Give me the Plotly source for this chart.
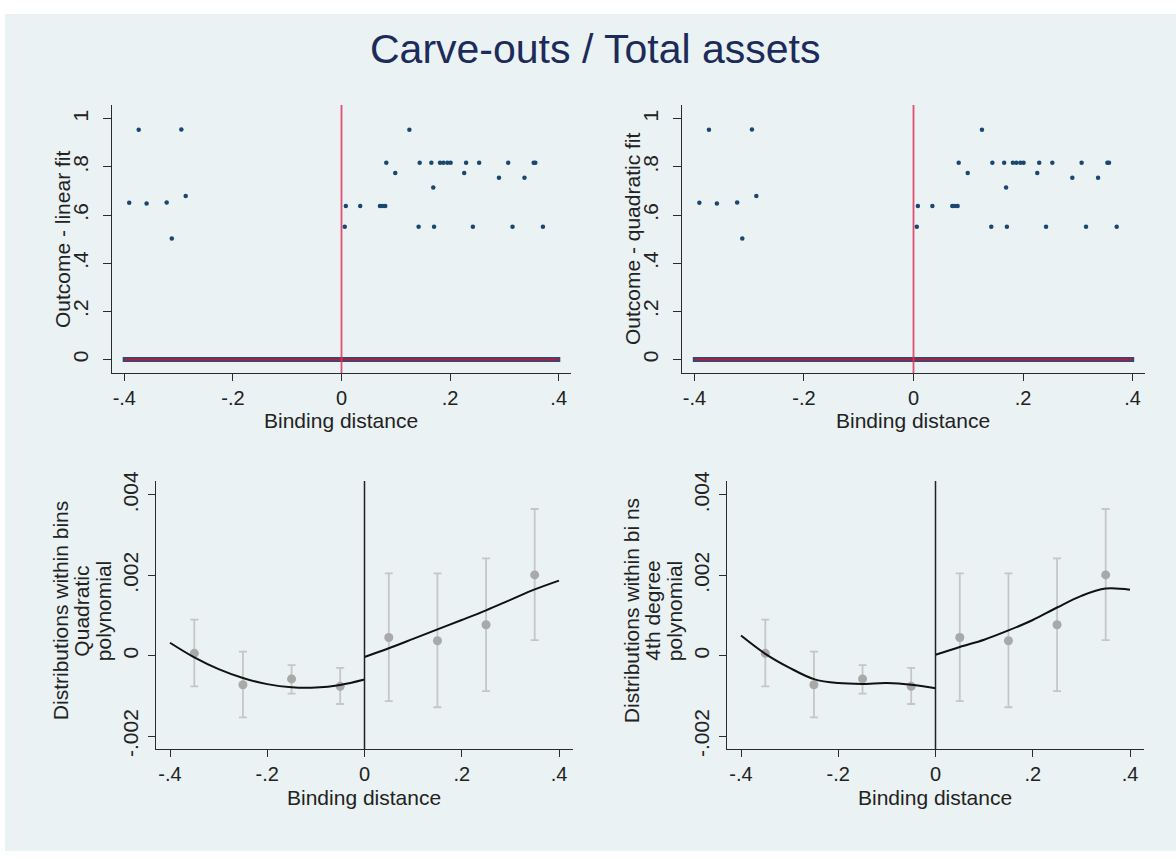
import plotly.graph_objects as go

# ---------------- data ----------------
# top panels: scatter of outcome vs binding distance
scat_x = [-0.391, -0.3735, -0.359, -0.322, -0.3126, -0.295, -0.287,
          0.006, 0.008, 0.0345, 0.0708, 0.0757, 0.0806, 0.0825, 0.099, 0.125,
          0.142, 0.144, 0.1655, 0.169, 0.1705, 0.1815, 0.1877, 0.195, 0.201,
          0.226, 0.2295, 0.242, 0.2535, 0.290, 0.307, 0.315, 0.337, 0.354,
          0.357, 0.371]
scat_y = [0.651, 0.954, 0.648, 0.652, 0.503, 0.955, 0.679,
          0.551, 0.637, 0.637, 0.637, 0.637, 0.637, 0.817, 0.774, 0.954,
          0.551, 0.817, 0.817, 0.714, 0.551, 0.817, 0.817, 0.817, 0.817,
          0.774, 0.817, 0.551, 0.817, 0.755, 0.817, 0.551, 0.755, 0.817,
          0.817, 0.551]
zero_x = [-0.403, 0.403]
zero_y = [0.0, 0.0]
fit_left_x = [-0.4, 0.0]
fit_left_y = [0.0, 0.0]
fit_right_x = [0.0, 0.4]
fit_right_y = [0.0, 0.0]

# bottom panels: binned means with confidence intervals
bin_x = [-0.35, -0.25, -0.15, -0.05, 0.05, 0.15, 0.25, 0.35]
bin_y = [0.00006, -0.00072, -0.000575, -0.00076, 0.000454, 0.000373, 0.00077, 0.00201]
bin_hi = [0.0009, 0.000105, -0.000235, -0.0003, 0.00205, 0.00205, 0.00242, 0.00365]
bin_lo = [-0.00076, -0.00153, -0.00094, -0.0012, -0.00113, -0.00128, -0.00088, 0.00039]

curve_left_x = [-0.4, -0.35, -0.3, -0.25, -0.2, -0.15, -0.1, -0.05, 0.0]
curve_right_x = [0.0, 0.05, 0.1, 0.15, 0.2, 0.25, 0.3, 0.35, 0.4]
quad_left_y = [0.000324, -0.000041, -0.000333, -0.000554, -0.000705, -0.000783, -0.00079, -0.000725, -0.00059]
quad_right_y = [-0.00003, 0.000186, 0.00042, 0.000656, 0.00089, 0.00113, 0.00139, 0.00165, 0.00187]
quart_left_y = [0.000503, 0.000049, -0.0003, -0.00058, -0.00068, -0.0007, -0.00068, -0.00072, -0.00081]
quart_right_y = [0.000024, 0.00022, 0.0004, 0.00063, 0.00089, 0.0012, 0.00149, 0.00167, 0.00164]

x_ticks = [-0.4, -0.2, 0, 0.2, 0.4]
x_ticklabels = ["-.4", "-.2", "0", ".2", ".4"]
top_y_ticks = [0, 0.2, 0.4, 0.6, 0.8, 1]
top_y_ticklabels = ["0", ".2", ".4", ".6", ".8", "1"]
bot_y_ticks = [-0.002, 0, 0.002, 0.004]
bot_y_ticklabels = ["-.002", "0", ".002", ".004"]

title_text = "Carve-outs / Total assets"
x_title = "Binding distance"
top_y_titles = ["Outcome - linear fit", "Outcome - quadratic fit"]
bot_y_titles = [["Distributions within bins", "Quadratic", "polynomial"],
                ["Distributions within bi ns", "4th degree", "polynomial"]]

# ---------------- styling ----------------
W, H = 1176, 859
BG = "#eaf2f3"
FONT = "Liberation Sans, Arial, sans-serif"
NAVY = "#1a476f"
AX = "#2b2b2b"


def px(x):
    return x / W


def py(y):
    return 1 - y / H


fig = go.Figure()

panels = {
    "tl": ("x", "y", (112, 571), (97, 371)),
    "tr": ("x2", "y2", (682, 1145), (97, 371)),
    "bl": ("x3", "y3", (156, 573), (481, 755)),
    "br": ("x4", "y4", (727, 1144), (481, 755)),
}

layout = dict(
    width=W, height=H,
    margin=dict(l=0, r=0, t=0, b=0),
    paper_bgcolor="white",
    plot_bgcolor="white",
    showlegend=False,
    font=dict(family=FONT, color="#222222"),
)

for name, (xa, ya, (x0, x1), (y0, y1)) in panels.items():
    xkey = "xaxis" + xa[1:]
    ykey = "yaxis" + ya[1:]
    top = name in ("tl", "tr")
    layout[xkey] = dict(
        domain=[px(x0), px(x1)], anchor=ya,
        range=[-0.4227, 0.4227] if top else [-0.4288, 0.4288],
        tickvals=x_ticks, ticktext=x_ticklabels,
        ticks="outside", ticklen=7, tickcolor=AX, tickwidth=1.3,
        ticklabelstandoff=0,
        showline=True, linecolor=AX, linewidth=1.3,
        showgrid=False, zeroline=False,
        tickfont=dict(size=20, family=FONT, color="#222222"),
    )
    layout[ykey] = dict(
        domain=[py(y1), py(y0)], anchor=xa,
        range=[-0.057, 1.057] if top else [-0.002323, 0.004348],
        tickvals=top_y_ticks if top else bot_y_ticks,
        ticktext=top_y_ticklabels if top else bot_y_ticklabels,
        tickangle=-90,
        ticks="outside", ticklen=8 if top else 7, tickcolor=AX, tickwidth=1.3,
        ticklabelstandoff=6 if top else 1,
        showline=True, linecolor=AX, linewidth=1.3,
        showgrid=True, gridcolor=BG, gridwidth=1.2,
        zeroline=False,
        tickfont=dict(size=21, family=FONT, color="#222222"),
    )

fig.update_layout(**layout)

# top panels
for xa, ya in [("x", "y"), ("x2", "y2")]:
    fig.add_trace(go.Scatter(x=zero_x, y=zero_y, mode="lines",
                             line=dict(color="#2c4a7a", width=5),
                             xaxis=xa, yaxis=ya, hoverinfo="skip"))
    fig.add_trace(go.Scatter(x=scat_x, y=scat_y, mode="markers",
                             marker=dict(color=NAVY, size=4.5, line=dict(width=0)),
                             xaxis=xa, yaxis=ya))
    fig.add_trace(go.Scatter(x=fit_left_x, y=fit_left_y, mode="lines",
                             line=dict(color="#c0182f", width=2.2),
                             xaxis=xa, yaxis=ya))
    fig.add_trace(go.Scatter(x=fit_right_x, y=fit_right_y, mode="lines",
                             line=dict(color="#c0182f", width=2.2),
                             xaxis=xa, yaxis=ya))
    fig.add_shape(type="line", x0=0, x1=0, y0=0, y1=1,
                  xref=xa, yref=ya + " domain",
                  line=dict(color="rgba(226,50,90,0.85)", width=1.8))

# bottom panels
err_plus = [h - y for h, y in zip(bin_hi, bin_y)]
err_minus = [y - l for y, l in zip(bin_y, bin_lo)]
for (xa, ya), ly, ry in [(("x3", "y3"), quad_left_y, quad_right_y),
                         (("x4", "y4"), quart_left_y, quart_right_y)]:
    fig.add_trace(go.Scatter(x=bin_x, y=bin_y, mode="markers",
                             marker=dict(color="#a9a9a9", size=9, line=dict(width=0)),
                             error_y=dict(type="data", symmetric=False,
                                          array=err_plus, arrayminus=err_minus,
                                          color="#c6c6c6", thickness=1.8, width=4),
                             xaxis=xa, yaxis=ya))
    fig.add_trace(go.Scatter(x=curve_left_x, y=ly, mode="lines",
                             line=dict(color="#111111", width=2, shape="spline"),
                             xaxis=xa, yaxis=ya))
    fig.add_trace(go.Scatter(x=curve_right_x, y=ry, mode="lines",
                             line=dict(color="#111111", width=2, shape="spline"),
                             xaxis=xa, yaxis=ya))
    fig.add_shape(type="line", x0=0, x1=0, y0=0, y1=1,
                  xref=xa, yref=ya + " domain",
                  line=dict(color="#222222", width=1.5))

# background panel (white strip on left/top edge)
fig.add_shape(type="rect", xref="paper", yref="paper",
              x0=px(5), x1=1, y0=0, y1=py(4),
              fillcolor=BG, line=dict(width=0), layer="below")

annotations = []
annotations.append(dict(text=title_text, x=px(595), y=py(40), xref="paper", yref="paper",
                        showarrow=False, xanchor="center", yanchor="middle",
                        font=dict(size=41, family=FONT, color="#1c2b59")))
# x titles
for cx, cy in [(341, 419), (913, 419), (364, 804), (935, 804)]:
    annotations.append(dict(text=x_title, x=px(cx), y=py(cy), xref="paper", yref="paper",
                            showarrow=False, xanchor="center", yanchor="middle",
                            font=dict(size=21, family=FONT, color="#222222")))
# top y titles
for txt, cx in zip(top_y_titles, [62, 632]):
    annotations.append(dict(text=txt, x=px(cx), y=py(234), xref="paper", yref="paper",
                            showarrow=False, xanchor="center", yanchor="middle", textangle=-90,
                            font=dict(size=21, family=FONT, color="#222222")))
# bottom y titles (three lines each)
for lines, base in zip(bot_y_titles, [60, 631]):
    for i, txt in enumerate(lines):
        annotations.append(dict(text=txt, x=px(base + 21.5 * i), y=py(614), xref="paper", yref="paper",
                                showarrow=False, xanchor="center", yanchor="middle", textangle=-90,
                                font=dict(size=21, family=FONT, color="#222222")))
fig.update_layout(annotations=annotations)

fig.write_html("out.html")
